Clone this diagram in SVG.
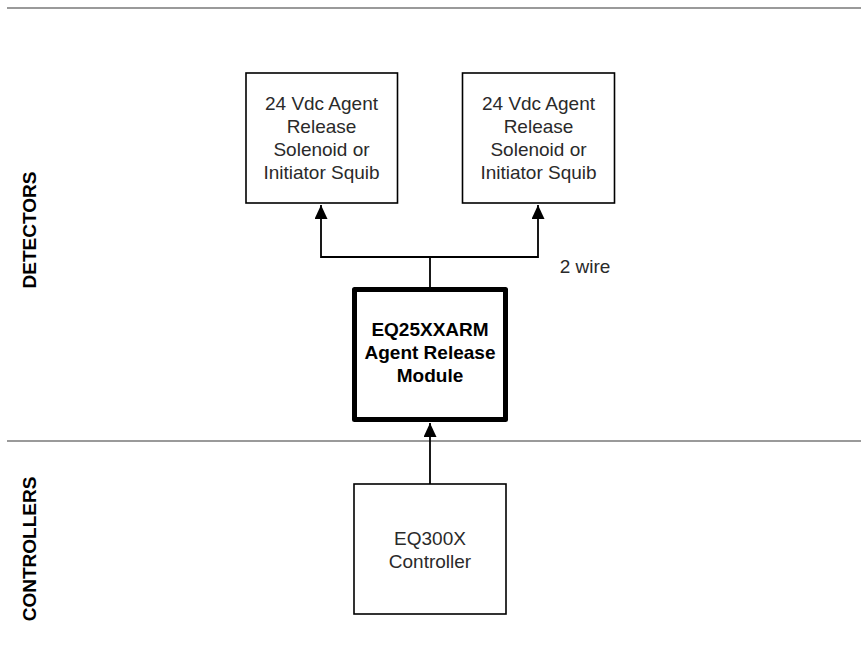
<svg xmlns="http://www.w3.org/2000/svg" width="861" height="656" viewBox="0 0 861 656">
  <style>
    .lane { stroke: #9a9a9a; stroke-width: 2; fill: none; }
    .box { fill: #ffffff; stroke: #000000; stroke-width: 1.6; }
    .thick { fill: #ffffff; stroke: #000000; stroke-width: 5; stroke-linejoin: round; }
    .t { font-family: "Liberation Sans", Arial, sans-serif; font-size: 19px; fill: #2a2a2a; text-anchor: middle; }
    .b { font-family: "Liberation Sans", Arial, sans-serif; font-size: 19px; font-weight: bold; fill: #000000; text-anchor: middle; }
    .side { font-family: "Liberation Sans", Arial, sans-serif; font-size: 19px; font-weight: bold; fill: #000000; text-anchor: middle; }
    .wire { stroke: #000000; stroke-width: 1.8; fill: none; }
  </style>
  <defs>
    <marker id="arrow" viewBox="0 0 14 13" refX="14" refY="6.5" markerWidth="14" markerHeight="13" markerUnits="userSpaceOnUse" orient="auto">
      <path d="M0,0 L14,6.5 L0,13 Z" fill="#000000"/>
    </marker>
  </defs>

  <g id="lanes">
    <line class="lane" x1="7" y1="8" x2="861" y2="8"/>
    <line class="lane" x1="7" y1="441" x2="861" y2="441"/>
    <text class="side" transform="translate(36,230) rotate(-90)">DETECTORS</text>
    <text class="side" transform="translate(36,549) rotate(-90)">CONTROLLERS</text>
  </g>

  <g id="connectors">
    <polyline class="wire" points="430,287 430,257 321,257 321,205" marker-end="url(#arrow)"/>
    <polyline class="wire" points="430,257 538,257 538,205" marker-end="url(#arrow)"/>
    <line class="wire" x1="430" y1="484" x2="430" y2="423" marker-end="url(#arrow)"/>
    <text class="t" x="585" y="273">2 wire</text>
  </g>

  <g id="solenoid1">
    <rect class="box" x="246" y="73" width="151.5" height="130"/>
    <text class="t" x="321.5" y="110">24 Vdc Agent</text>
    <text class="t" x="321.5" y="133">Release</text>
    <text class="t" x="321.5" y="156">Solenoid or</text>
    <text class="t" x="321.5" y="179">Initiator Squib</text>
  </g>

  <g id="solenoid2">
    <rect class="box" x="462.5" y="73" width="152" height="130"/>
    <text class="t" x="538.5" y="110">24 Vdc Agent</text>
    <text class="t" x="538.5" y="133">Release</text>
    <text class="t" x="538.5" y="156">Solenoid or</text>
    <text class="t" x="538.5" y="179">Initiator Squib</text>
  </g>

  <g id="arm">
    <rect class="thick" x="354.5" y="289.5" width="151" height="130"/>
    <text class="b" x="430" y="336">EQ25XXARM</text>
    <text class="b" x="430" y="359">Agent Release</text>
    <text class="b" x="430" y="382">Module</text>
  </g>

  <g id="controller">
    <rect class="box" x="354" y="484" width="152" height="130"/>
    <text class="t" x="430" y="545">EQ300X</text>
    <text class="t" x="430" y="568">Controller</text>
  </g>
</svg>
